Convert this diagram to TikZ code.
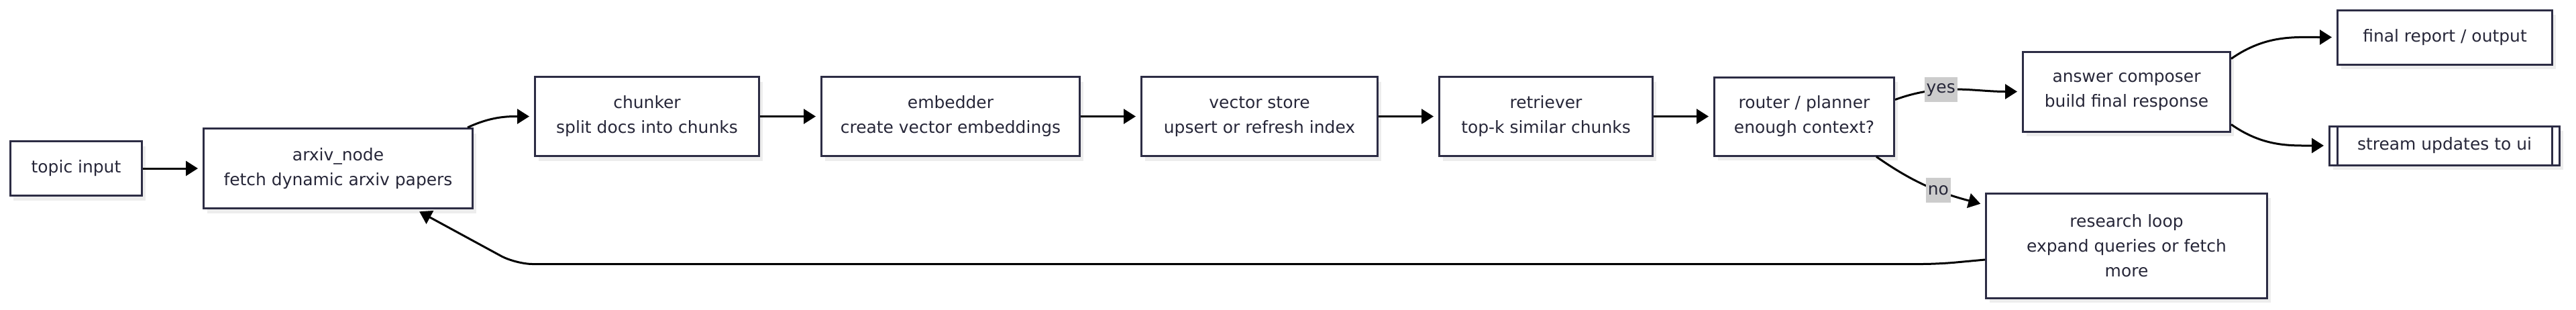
\documentclass[tikz,border=0pt]{standalone}
\usepackage{fontspec}
\setmainfont{DejaVu Sans}
\usetikzlibrary{arrows.meta,positioning,shadows}
\definecolor{boxline}{HTML}{2C2C44}
\definecolor{boxtext}{HTML}{262638}
\definecolor{lblfill}{HTML}{CCCCCC}

\begin{document}
\begin{tikzpicture}[
  node distance=0.89cm and 0.89cm,
  block/.style={draw=boxline,fill=white,line width=0.03cm,text=boxtext,align=center,
    font=\fontsize{7.1}{10.5}\selectfont,inner sep=0pt,minimum height=1.18cm,
    drop shadow={shadow xshift=0.05cm,shadow yshift=-0.07cm,fill=black!7,opacity=1}},
  lbl/.style={fill=lblfill,text=boxtext,font=\fontsize{7.1}{10.5}\selectfont,
    inner sep=0.03cm,minimum height=0.37cm},
  arr/.style={-{Triangle[length=0.18cm,width=0.22cm]},line width=0.03cm,shorten >=0.07cm}
]
  \useasboundingbox (0,0) rectangle (38.4,-4.61);

  \node[block,minimum width=1.96cm,minimum height=0.81cm] (topic) at (1.135,-2.51) {topic input};
  \node[block,right=of topic,minimum width=4.01cm,minimum height=1.19cm] (arxiv)
    {arxiv\_node\\fetch dynamic arxiv papers};
  \node[block,right=0.9cm of arxiv,yshift=0.775cm,minimum width=3.34cm] (chunker)
    {chunker\\split docs into chunks};
  \node[block,right=0.9cm of chunker,minimum width=3.85cm] (embedder)
    {embedder\\create vector embeddings};
  \node[block,right=of embedder,minimum width=3.52cm] (vstore)
    {vector store\\upsert or refresh index};
  \node[block,right=of vstore,minimum width=3.18cm] (retriever)
    {retriever\\top-k similar chunks};
  \node[block,right=of retriever,minimum width=2.68cm,minimum height=1.17cm] (router)
    {router / planner\\enough context?};
  \node[block,right=1.89cm of router,yshift=0.37cm,minimum width=3.09cm,minimum height=1.19cm] (composer)
    {answer composer\\build final response};
  \node[block,right=1.57cm of composer,yshift=0.81cm,minimum width=3.2cm,minimum height=0.81cm] (report)
    {final report / output};
  \node[block,right=1.45cm of composer,yshift=-0.805cm,minimum width=3.43cm,minimum height=0.58cm] (stream)
    {stream updates to ui};
  \draw[boxline,line width=0.03cm] ([xshift=0.13cm]stream.north west) -- ([xshift=0.13cm]stream.south west);
  \draw[boxline,line width=0.03cm] ([xshift=-0.13cm]stream.north east) -- ([xshift=-0.13cm]stream.south east);
  \node[block,below=of composer,minimum width=4.19cm,minimum height=1.56cm] (research)
    {research loop\\expand queries or fetch\\more};

  \draw[arr] (topic) -- (arxiv);
  \draw[arr] ([xshift=-0.09cm]arxiv.north east) to[out=25,in=180] (chunker.west);
  \draw[arr] (chunker) -- (embedder);
  \draw[arr] (embedder) -- (vstore);
  \draw[arr] (vstore) -- (retriever);
  \draw[arr] (retriever) -- (router);
  \draw[arr] ([yshift=0.25cm]router.east) to[out=20,in=180] node[lbl,pos=0.36] {yes} (composer.west);
  \draw[arr] ([xshift=-0.28cm]router.south east) to[out=-35,in=165] node[lbl,pos=0.6] {no}
    ([yshift=-0.19cm]research.north west);
  \draw[arr] ([yshift=0.49cm]composer.east) to[out=35,in=180] (report.west);
  \draw[arr] ([yshift=-0.49cm]composer.east) to[out=-35,in=180] (stream.west);
  % loop back for more papers
  \draw[arr,rounded corners=0.25cm] ([yshift=-0.21cm]research.west) -- ++(-0.7,-0.065)
    -- ++(-21.2,0) -- ([xshift=1.15cm]arxiv.south);
\end{tikzpicture}
\end{document}
